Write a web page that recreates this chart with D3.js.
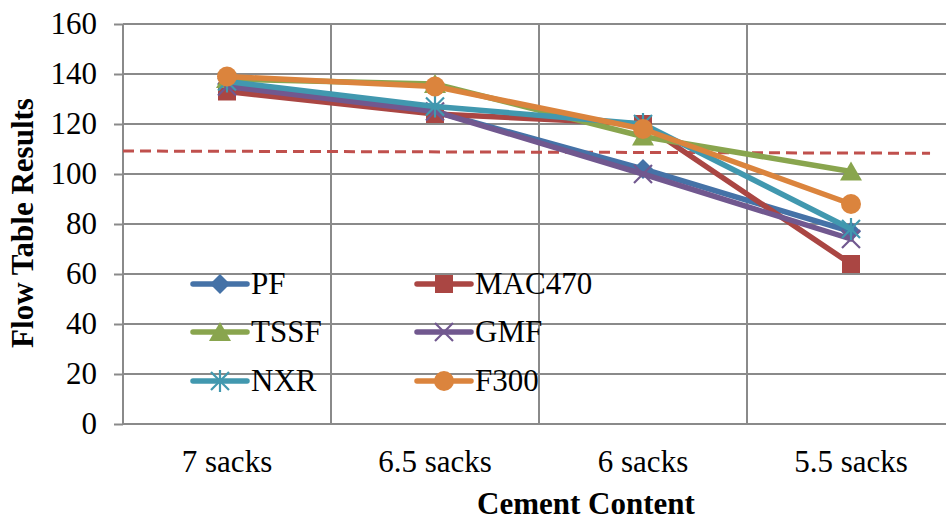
<!DOCTYPE html>
<html>
<head>
<meta charset="utf-8">
<script src="https://cdn.jsdelivr.net/npm/d3@7"></script>
<style>
  html, body { margin: 0; padding: 0; background: #fff; }
  svg { display: block; font-family: "Liberation Serif", "Times New Roman", serif; }
</style>
</head>
<body>
<svg id="chart" width="946" height="521"></svg>
<script>
// Flow table results by cement content
const categories = ["7 sacks", "6.5 sacks", "6 sacks", "5.5 sacks"];
const seriesNames = ["PF", "MAC470", "TSSF", "GMF", "NXR", "F300"];
const pfValues     = [136, 125, 102, 77];
const mac470Values = [133, 124, 120, 64];
const tssfValues   = [138, 136, 115, 101];
const gmfValues    = [135, 125, 100, 74];
const nxrValues    = [137, 127, 120, 78];
const f300Values   = [139, 135, 118, 88];
const yTicks = [0, 20, 40, 60, 80, 100, 120, 140, 160];
// Reference limit line (value at its left and right ends, in category units)
const limitPos = [-0.5, 3.38];
const limitValues = [109.2, 108.3];

const seriesValues = [pfValues, mac470Values, tssfValues, gmfValues, nxrValues, f300Values];
const colors = ["#4572A7", "#AA4643", "#89A54E", "#71588F", "#4198AF", "#DB843D"];
const markers = ["diamond", "square", "triangle", "x", "star", "circle"];

const FONT = "'Liberation Serif', 'Times New Roman', serif";
const FS = 31;

const svg = d3.select("#chart");
const margin = { left: 123, top: 24, bottom: 424 };
const band = 208;

const x = d3.scaleBand().domain(categories)
  .range([margin.left, margin.left + band * categories.length]).paddingInner(0).paddingOuter(0);
const xc = d3.scaleLinear().domain([-0.5, 3.5]).range([margin.left, margin.left + band * 4]);
const y = d3.scaleLinear().domain([0, 160]).range([margin.bottom, margin.top]);

const gridColor = "#8a8a8a";

// horizontal gridlines + y axis
const yAxis = d3.axisLeft(y).tickValues(yTicks).tickSize(9).tickPadding(17);
const gy = svg.append("g").attr("transform", `translate(${margin.left},0)`).call(yAxis);
gy.attr("font-family", FONT).attr("font-size", FS);
gy.select(".domain").remove();
gy.selectAll(".tick line").attr("stroke", gridColor).attr("stroke-width", 2);
gy.selectAll(".tick text").attr("fill", "#000");

svg.append("g").selectAll("line").data(yTicks).join("line")
  .attr("x1", margin.left).attr("x2", 946)
  .attr("y1", d => y(d)).attr("y2", d => y(d))
  .attr("stroke", gridColor).attr("stroke-width", 2);

// vertical gridlines at category boundaries
const bounds = categories.map(c => x(c));
svg.append("g").selectAll("line").data(bounds).join("line")
  .attr("x1", d => d).attr("x2", d => d)
  .attr("y1", margin.top).attr("y2", margin.bottom)
  .attr("stroke", gridColor).attr("stroke-width", 2);

// x axis labels
const xAxis = d3.axisBottom(x).tickSize(0).tickPadding(0);
const gx = svg.append("g").attr("transform", `translate(0,${margin.bottom})`).call(xAxis);
gx.attr("font-family", FONT).attr("font-size", FS);
gx.select(".domain").remove();
gx.selectAll(".tick text").attr("fill", "#000").attr("dy", null).attr("y", 48);

// dashed limit line
const limitLine = d3.line().x(d => xc(d[0])).y(d => y(d[1]));
svg.append("path")
  .datum(limitPos.map((p, i) => [p, limitValues[i]]))
  .attr("d", limitLine)
  .attr("fill", "none").attr("stroke", "#C0504D").attr("stroke-width", 3)
  .attr("stroke-dasharray", "11,6");

function drawMarker(g, type, color) {
  if (type === "diamond") {
    g.append("path").attr("d", "M0,-10L10,0L0,10L-10,0Z").attr("fill", color);
  } else if (type === "square") {
    g.append("rect").attr("x", -9).attr("y", -9).attr("width", 18).attr("height", 18).attr("fill", color);
  } else if (type === "triangle") {
    g.append("path").attr("d", "M0,-10L11,9L-11,9Z").attr("fill", color);
  } else if (type === "x") {
    g.append("path").attr("d", "M-9,-9L9,9M-9,9L9,-9").attr("stroke", color).attr("stroke-width", 2.2).attr("fill", "none");
  } else if (type === "star") {
    g.append("path").attr("d", "M-9,-9L9,9M-9,9L9,-9M0,-11L0,11").attr("stroke", color).attr("stroke-width", 2.2).attr("fill", "none");
  } else if (type === "circle") {
    g.append("circle").attr("r", 10).attr("fill", color);
  }
}

const line = d3.line().x((d, i) => x(categories[i]) + x.bandwidth() / 2).y(d => y(d));

seriesValues.forEach((vals, si) => {
  const g = svg.append("g");
  g.append("path").datum(vals).attr("d", line)
    .attr("fill", "none").attr("stroke", colors[si]).attr("stroke-width", 5.5)
    .attr("stroke-linejoin", "round").attr("stroke-linecap", "round");
  vals.forEach((v, i) => {
    const m = g.append("g").attr("transform", `translate(${x(categories[i]) + x.bandwidth() / 2},${y(v)})`);
    drawMarker(m, markers[si], colors[si]);
  });
});

// legend
const legendCols = [193, 417];
const legendRows = [284, 332, 381];
seriesNames.forEach((name, i) => {
  const col = i % 2, row = Math.floor(i / 2);
  const lx = legendCols[col], ly = legendRows[row];
  const g = svg.append("g").attr("transform", `translate(${lx},${ly})`);
  g.append("line").attr("x1", 0).attr("x2", 54).attr("y1", 0).attr("y2", 0)
    .attr("stroke", colors[i]).attr("stroke-width", 5.5).attr("stroke-linecap", "round");
  const m = g.append("g").attr("transform", "translate(27,0)");
  drawMarker(m, markers[i], colors[i]);
  g.append("text").attr("x", 58).attr("y", 0).attr("dy", "0.32em")
    .attr("font-family", FONT).attr("font-size", FS).attr("fill", "#000").text(name);
});

// axis titles
svg.append("text").attr("x", 586).attr("y", 514)
  .attr("text-anchor", "middle").attr("font-family", FONT).attr("font-size", FS).attr("font-weight", "bold")
  .text("Cement Content");
svg.append("text").attr("transform", "translate(22,223) rotate(-90)")
  .attr("dy", "0.35em").attr("text-anchor", "middle").attr("font-family", FONT).attr("font-size", FS).attr("font-weight", "bold")
  .text("Flow Table Results");
</script>
</body>
</html>
